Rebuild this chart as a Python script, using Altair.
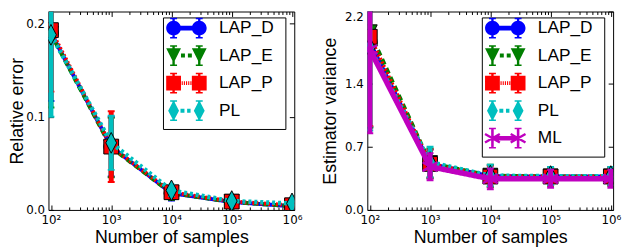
import altair as alt
import pandas as pd

# ---------------- data ----------------
samples = [1e2, 1e3, 1e4, 1e5, 1e6]
x_ticks = [1e2, 1e3, 1e4, 1e5, 1e6]
minor_ticks = [k * 10 ** d for d in range(2, 6) for k in range(2, 10)]

methods_left = ["LAP_D", "LAP_E", "LAP_P", "PL"]
methods_right = ["LAP_D", "LAP_E", "LAP_P", "PL", "ML"]

# left panel: relative error (mean) and error-bar half widths
rel_err_LAP_D = [0.190, 0.068, 0.018, 0.0085, 0.004]
rel_err_LAP_E = [0.189, 0.067, 0.018, 0.0085, 0.004]
rel_err_LAP_P = [0.193, 0.068, 0.019, 0.0090, 0.005]
rel_err_PL = [0.188, 0.072, 0.021, 0.0095, 0.007]

rel_err_sd_LAP_D = [0.073, 0.032, 0.008, 0.003, 0.002]
rel_err_sd_LAP_E = [0.079, 0.032, 0.007, 0.003, 0.002]
rel_err_sd_LAP_P = [0.066, 0.038, 0.007, 0.003, 0.002]
rel_err_sd_PL = [0.088, 0.029, 0.006, 0.003, 0.002]

# right panel: estimator variance (mean) and error-bar half widths
var_LAP_D = [1.86, 0.51, 0.375, 0.370, 0.370]
var_LAP_E = [1.97, 0.52, 0.380, 0.372, 0.372]
var_LAP_P = [1.92, 0.51, 0.370, 0.370, 0.370]
var_PL = [1.80, 0.53, 0.380, 0.375, 0.375]
var_ML = [1.78, 0.48, 0.345, 0.345, 0.345]

var_sd_LAP_D = [0.94, 0.16, 0.12, 0.10, 0.10]
var_sd_LAP_E = [1.06, 0.16, 0.12, 0.10, 0.10]
var_sd_LAP_P = [0.99, 0.16, 0.12, 0.10, 0.10]
var_sd_PL = [0.92, 0.17, 0.12, 0.10, 0.10]
var_sd_ML = [0.93, 0.15, 0.115, 0.10, 0.10]

y_ticks_left = [0.0, 0.1, 0.2]
y_ticks_right = [0.0, 0.7, 1.4, 2.2]

# ---------------- styles ----------------
COLORS = {"LAP_D": "#0000ff", "LAP_E": "#007f00", "LAP_P": "#ff0000",
          "PL": "#00bfbf", "ML": "#bf00bf"}
DASH = {"LAP_D": [1, 0], "LAP_E": [6, 4], "LAP_P": [2, 2], "PL": [3, 3], "ML": [1, 0]}
LW = {"LAP_D": 4, "LAP_E": 4, "LAP_P": 4, "PL": 4.5, "ML": 5.5}
TRI = "M-1,-1L1,-1L0,1Z"
DIA = "M0,-1.4L0.73,0L0,1.4L-0.73,0Z"
AST = "M0,-1.15L0,1.15M-1,-0.6L1,0.6M-1,0.6L1,-0.6"
SHAPE = {"LAP_D": "circle", "LAP_E": TRI, "LAP_P": "square", "PL": DIA, "ML": AST}
MSIZE = 225
U = 7.5  # px per path unit for size 225


def f(v):
    return f"{v / U:.3f}"


def poly(pts):
    return "M" + "L".join(f"{f(x)},{f(y)}" for x, y in pts) + "Z"


def rect(x0, y0, x1, y1):
    return poly([(x0, y0), (x1, y0), (x1, y1), (x0, y1)])


def pt(x, y):  # invisible, zero-area point that only widens the legend box
    return f"M{f(x)},{f(y)}L{f(x)},{f(y)}"


def circ(cx, r):
    return (f"M{f(cx - r)},0A{f(r)},{f(r)} 0 1,1 {f(cx + r)},0"
            f"A{f(r)},{f(r)} 0 1,1 {f(cx - r)},0Z")


def tri(cx):
    return poly([(cx - 7.5, -7.5), (cx + 7.5, -7.5), (cx, 7.5)])


def sq(cx):
    return rect(cx - 7.5, -7.5, cx + 7.5, 7.5)


def dia(cx):
    return poly([(cx, -10.5), (cx + 5.5, 0), (cx, 10.5), (cx - 5.5, 0)])


def ast(cx):
    s = rect(cx - 1.3, -8.5, cx + 1.3, 8.5)
    s += poly([(cx - 6.903, -5.341), (cx + 8.097, 3.259), (cx + 6.903, 5.341), (cx - 8.097, -3.259)])
    s += poly([(cx - 8.097, 3.259), (cx + 6.903, -5.341), (cx + 8.097, -3.259), (cx - 6.903, 5.341)])
    return s


D = 26.0


def stubs():
    s = ""
    for cx in (0, D):
        s += rect(cx - 1.2, -10.5, cx + 1.2, 10.5)
        s += rect(cx - 3.5, -10.5, cx + 3.5, -9.0)
        s += rect(cx - 3.5, 9.0, cx + 3.5, 10.5)
    return s


LEG_BODY = {
    "LAP_D": circ(0, 7.5) + circ(D, 7.5) + rect(0, -2.4, D, 2.4),
    "LAP_E": tri(0) + tri(D) + rect(7.5, -2, 11.5, 2) + rect(14.5, -2, 18.5, 2),
    "LAP_P": sq(0) + sq(D) + "".join(rect(x, -2, x + 1.1, 2) for x in (8.2, 10.4, 12.6, 14.8, 17.0)),
    "PL": dia(0) + dia(D) + rect(7, -2, 11, 2) + rect(13.7, -2, 17.2, 2),
    "ML": ast(0) + ast(D) + rect(0, -2.2, D, 2.2),
}


def legend_paths(methods):
    out = []
    for i, m in enumerate(methods):
        p = LEG_BODY[m] + stubs() + pt(-10.3, 0) + pt(110.7, 0)
        if i == len(methods) - 1:
            p += pt(0, 16.0)
        out.append(p)
    return out


W, H = 249, 201
X_DOMAIN = [91, 1.09e6]
LABEL_EXPR = ("'10' + ['\u2070','\u00b9','\u00b2','\u00b3','\u2074','\u2075','\u2076','\u2077']"
              "[round(log(datum.value)/LN10)]")


def make_df(methods, vals, sds):
    rows = []
    for m in methods:
        for x, v, s in zip(samples, vals[m], sds[m]):
            rows.append(dict(series=m, x=x, y=v, lo=v - s, hi=v + s))
    return pd.DataFrame(rows)


def panel(df, methods, ydomain, yticks, ytitle, title_x):
    xs = alt.Scale(type="log", domain=X_DOMAIN, nice=False)
    ys = alt.Scale(domain=ydomain, nice=False, zero=False)
    base = alt.Chart(df)
    layers = []
    for m in methods:
        b = base.transform_filter(alt.datum.series == m)
        c = COLORS[m]
        X = alt.X("x:Q", scale=xs, axis=None)
        layers.append(b.mark_rule(color=c, strokeWidth=5, clip=True).encode(
            x=X, y=alt.Y("lo:Q", scale=ys, axis=None), y2="hi:Q"))
        for fld in ("lo", "hi"):
            layers.append(b.mark_tick(color=c, orient="horizontal", size=7, thickness=2,
                                      opacity=1, clip=True).encode(
                x=X, y=alt.Y(f"{fld}:Q", scale=ys, axis=None)))
        layers.append(b.mark_line(color=c, strokeWidth=LW[m], strokeDash=DASH[m],
                                  clip=True).encode(x=X, y=alt.Y("y:Q", scale=ys, axis=None)))
        if m == "ML":
            mk = b.mark_point(filled=False, stroke=c, strokeWidth=2.5, shape=SHAPE[m],
                              size=MSIZE, opacity=1, clip=True)
        else:
            mk = b.mark_point(filled=True, fill=c, stroke="black", strokeWidth=1,
                              shape=SHAPE[m], size=MSIZE, opacity=1, clip=True)
        layers.append(mk.encode(x=X, y=alt.Y("y:Q", scale=ys, axis=None)))

    leg = alt.Legend(orient="none", legendX=116, legendY=6, title=None, padding=2,
                     strokeColor="black", fillColor="white", cornerRadius=0,
                     symbolSize=MSIZE, symbolStrokeWidth=0, labelFont="Liberation Sans",
                     labelFontSize=17.5, labelColor="black", labelOffset=37.25,
                     rowPadding=5.9, labelLimit=300)
    layers.append(base.transform_filter("false").mark_point(
        filled=True, opacity=1, size=MSIZE, strokeWidth=0).encode(
        x=alt.X("x:Q", scale=xs, axis=None),
        y=alt.Y("y:Q", scale=ys, axis=None),
        fill=alt.Fill("series:N", scale=alt.Scale(domain=methods, range=[COLORS[m] for m in methods]), legend=leg),
        shape=alt.Shape("series:N", scale=alt.Scale(domain=methods, range=legend_paths(methods)), legend=leg),
    ))

    common = dict(domain=False, grid=False, tickColor="black", tickWidth=1)
    lab = dict(labelFont="DejaVu Sans", labelFontSize=12, labelColor="black", labelOverlap=False)
    ax_bottom = alt.Axis(orient="bottom", values=x_ticks, labelExpr=LABEL_EXPR, offset=-5, tickSize=5,
                         labelPadding=4.5, labelFlush=False, title="Number of samples",
                         titleFont="Liberation Sans", titleFontSize=18, titleFontWeight="normal",
                         titleColor="black", titlePadding=3, **lab, **common)
    ax_bottom_minor = alt.Axis(orient="bottom", values=minor_ticks, offset=-3, tickSize=3,
                               labels=False, title=None, **common)
    ax_top = alt.Axis(orient="top", values=x_ticks, offset=-5, tickSize=5, labels=False, title=None, **common)
    ax_top_minor = alt.Axis(orient="top", values=minor_ticks, offset=-3, tickSize=3, labels=False,
                            title=None, **common)
    main_vals = [v for v in yticks if v < ydomain[1] - 1e-9]
    edge_vals = [v for v in yticks if v >= ydomain[1] - 1e-9]
    ax_left = alt.Axis(orient="left", values=main_vals, format=".1f", offset=-5, tickSize=5,
                       labelPadding=4, labelFlush=False, title=ytitle, titleFont="Liberation Sans",
                       titleFontSize=18, titleFontWeight="normal", titleColor="black", titleX=title_x,
                       **lab, **common)
    ax_right = alt.Axis(orient="right", values=yticks, offset=-5, tickSize=5, labels=False, title=None,
                        **common)
    ax_left_edge = None
    if edge_vals:
        ax_left_edge = alt.Axis(orient="left", values=edge_vals, format=".1f", offset=-5, tickSize=5,
                                labelPadding=4, labelFlush=True, title=None, **lab, **common)

    def carrier(xa, ya):
        return base.transform_filter("false").mark_point(opacity=0).encode(
            x=alt.X("x:Q", scale=xs, axis=xa), y=alt.Y("y:Q", scale=ys, axis=ya))

    layers += [carrier(ax_bottom, ax_left), carrier(ax_bottom_minor, ax_right),
               carrier(ax_top, ax_left_edge), carrier(ax_top_minor, None)]
    return alt.layer(*layers).properties(width=W, height=H).resolve_axis(x="independent", y="independent")


left_vals = {"LAP_D": rel_err_LAP_D, "LAP_E": rel_err_LAP_E, "LAP_P": rel_err_LAP_P, "PL": rel_err_PL}
left_sds = {"LAP_D": rel_err_sd_LAP_D, "LAP_E": rel_err_sd_LAP_E, "LAP_P": rel_err_sd_LAP_P, "PL": rel_err_sd_PL}
right_vals = {"LAP_D": var_LAP_D, "LAP_E": var_LAP_E, "LAP_P": var_LAP_P, "PL": var_PL, "ML": var_ML}
right_sds = {"LAP_D": var_sd_LAP_D, "LAP_E": var_sd_LAP_E, "LAP_P": var_sd_LAP_P, "PL": var_sd_PL, "ML": var_sd_ML}

left = panel(make_df(methods_left, left_vals, left_sds), methods_left, [0, 0.213], y_ticks_left,
             "Relative error", -27)
right = panel(make_df(methods_right, right_vals, right_sds), methods_right, [0, 2.2], y_ticks_right,
              "Estimator variance", -33)

chart = alt.hconcat(left, right, spacing=18).resolve_scale(
    x="independent", y="independent", fill="independent", shape="independent"
).properties(padding=0, background="white").configure_view(stroke="black", strokeWidth=1)

chart.save("out.html", embed_options={"renderer": "svg", "actions": False})
